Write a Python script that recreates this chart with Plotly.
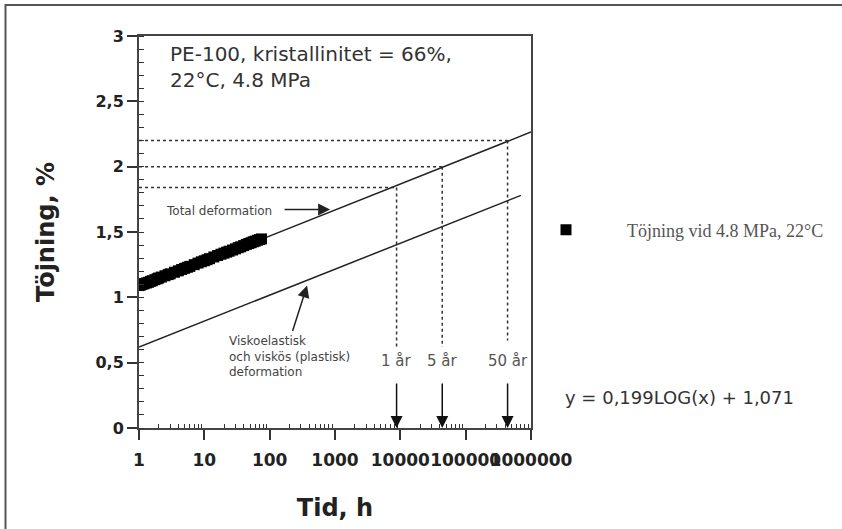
import math
import plotly.graph_objects as go

# ---- data ----
time_h = [1, 1.05, 1.1, 1.15, 1.2, 1.3, 1.4, 1.5, 1.6, 1.75, 1.9, 2, 2.2, 2.5, 2.8, 3, 3.5, 4,
          4.5, 5, 5.5, 6, 7, 8, 9, 10, 11, 12, 14, 16, 18, 20, 22, 24, 27, 30, 33, 36, 40,
          44, 48, 52, 56, 60, 65, 70, 75]
strain = [1.09, 1.094, 1.098, 1.102, 1.105, 1.11, 1.115, 1.122, 1.127, 1.135, 1.142, 1.148,
          1.155, 1.165, 1.174, 1.18, 1.192, 1.203, 1.213, 1.222, 1.23, 1.237, 1.25, 1.262,
          1.272, 1.28, 1.288, 1.296, 1.309, 1.32, 1.33, 1.338, 1.346, 1.353, 1.362, 1.371,
          1.38, 1.387, 1.396, 1.405, 1.412, 1.418, 1.425, 1.43, 1.437, 1.442, 1.447]

total_x = [1, 1000000]
total_y = [1.071, 2.265]
visko_x = [1, 700000]
visko_y = [0.62, 1.78]

year_labels = ["1 år", "5 år", "50 år"]
year_hours = [8760, 43800, 438000]
year_strain = [1.84, 2.0, 2.2]
year_dot_bottom = [0.62, 0.62, 0.67]

x_tickvals = [1, 10, 100, 1000, 10000, 100000, 1000000]
x_ticktext = ["1", "10", "100", "1000", "10000", "100000", "1000000"]
y_tickvals = [0, 0.5, 1, 1.5, 2, 2.5, 3]
y_ticktext = ["0", "0,5", "1", "1,5", "2", "2,5", "3"]

# ---- layout geometry ----
L, R, T, B = 139, 311, 36, 101
W, H = 842, 529
PW, PH = W - L - R, H - T - B


def px(xp):
    return (xp - L) / PW


def py(yp):
    return (H - B - yp) / PH


fig = go.Figure()

# dotted guide lines
for yr_h, yr_s, yr_b in zip(year_hours, year_strain, year_dot_bottom):
    fig.add_trace(go.Scatter(x=[1, yr_h], y=[yr_s, yr_s], mode="lines",
                             line=dict(color="#333", width=1.5, dash="dot"),
                             showlegend=False, hoverinfo="skip"))
    fig.add_trace(go.Scatter(x=[yr_h, yr_h], y=[yr_s, yr_b], mode="lines",
                             line=dict(color="#333", width=1.5, dash="dot"),
                             showlegend=False, hoverinfo="skip"))

fig.add_trace(go.Scatter(x=total_x, y=total_y, mode="lines",
                         line=dict(color="#222", width=1.5), showlegend=False))
fig.add_trace(go.Scatter(x=visko_x, y=visko_y, mode="lines",
                         line=dict(color="#222", width=1.5), showlegend=False))

fig.add_trace(go.Scatter(x=time_h, y=strain, mode="markers",
                         marker=dict(symbol="square", size=11, color="black"),
                         name="Töjning vid 4.8 MPa, 22°C", showlegend=True))

ann = []
ann.append(dict(xref="paper", yref="paper", x=px(168), y=py(40), xanchor="left", yanchor="top",
                text="PE-100, kristallinitet = 66%,<br>22°C, 4.8 MPa", align="left",
                showarrow=False, font=dict(family="DejaVu Sans", size=20, color="#333")))
ann.append(dict(xref="x", yref="y", x=1.225, y=1.658, text="Total deformation", showarrow=False,
                font=dict(family="DejaVu Sans", size=12, color="#444")))
ann.append(dict(xref="x", yref="y", x=2.925, y=1.673, text="", showarrow=True,
                ax=-47, ay=0, arrowhead=2, arrowsize=1.6, arrowwidth=1.5, arrowcolor="#222",
                standoff=0))
ann.append(dict(xref="x", yref="y", x=1.348, y=0.545, xanchor="left",
                text="Viskoelastisk<br>och viskös (plastisk)<br>deformation", align="left",
                showarrow=False, font=dict(family="DejaVu Sans", size=12, color="#444")))
ann.append(dict(xref="x", yref="y", x=2.573, y=1.09, text="", showarrow=True,
                ax=-15, ay=47, arrowhead=2, arrowsize=1.6, arrowwidth=1.5, arrowcolor="#222",
                standoff=0))
for lab, h in zip(year_labels, year_hours):
    ann.append(dict(xref="x", yref="y", x=math.log10(h), y=0.51, text=lab, showarrow=False,
                    font=dict(family="DejaVu Sans", size=15, color="#555")))
    ann.append(dict(xref="x", yref="y", x=math.log10(h), y=0, text="", showarrow=True,
                    ax=0, ay=-46, arrowhead=2, arrowsize=1.6, arrowwidth=1.5, arrowcolor="#111",
                    standoff=0))
ann.append(dict(xref="paper", yref="paper", x=px(563), y=py(410), xanchor="left",
                text="y = 0,199LOG(x) + 1,071", showarrow=False,
                font=dict(family="DejaVu Sans", size=18, color="#333")))

shapes = [
    dict(type="rect", xref="paper", yref="paper", x0=px(5.5), x1=px(900), y0=py(5), y1=py(600),
         line=dict(color="#555", width=2), fillcolor="rgba(0,0,0,0)", layer="above"),
]

fig.update_layout(
    width=W, height=H,
    margin=dict(l=L, r=R, t=T, b=B),
    plot_bgcolor="white", paper_bgcolor="white",
    annotations=ann, shapes=shapes,
    legend=dict(x=px(505), y=py(230), xanchor="left", yanchor="middle",
                itemwidth=112, bgcolor="rgba(0,0,0,0)",
                font=dict(family="Liberation Serif", size=18, color="#555")),
    xaxis=dict(type="log", range=[0, 6], tickmode="array", tickvals=x_tickvals,
               ticktext=x_ticktext, tickangle=0, ticks="outside", ticklen=10, tickwidth=1.5,
               tickcolor="#333", showline=True, mirror=True, linecolor="#444", linewidth=2,
               showgrid=False, zeroline=False, ticklabelstandoff=6,
               tickfont=dict(family="DejaVu Sans", size=17, color="#222", weight="bold"),
               minor=dict(ticks="inside", ticklen=4, tickwidth=1.2, tickcolor="#333",
                          tickmode="array",
                          tickvals=[k * 10 ** d for d in range(6) for k in range(2, 10)],
                          showgrid=False),
               title=dict(text="<b>Tid, h</b>", standoff=30,
                          font=dict(family="DejaVu Sans", size=24, color="#222"))),
    yaxis=dict(range=[0, 3], tickmode="array", tickvals=y_tickvals, ticktext=y_ticktext,
               ticks="outside", ticklen=10, tickwidth=1.5, tickcolor="#333",
               showline=True, mirror=True, linecolor="#444", linewidth=2,
               showgrid=False, zeroline=False,
               tickfont=dict(family="DejaVu Sans", size=16, color="#222", weight="bold"),
               minor=dict(ticks="inside", ticklen=5, tickwidth=1.2, tickcolor="#333",
                          dtick=0.1, showgrid=False),
               title=dict(text="<b>Töjning, %</b>", standoff=34,
                          font=dict(family="DejaVu Sans", size=24, color="#222"))),
)

fig.write_html("out.html", config={"displayModeBar": False},
               post_script="document.body.style.margin='0';")
